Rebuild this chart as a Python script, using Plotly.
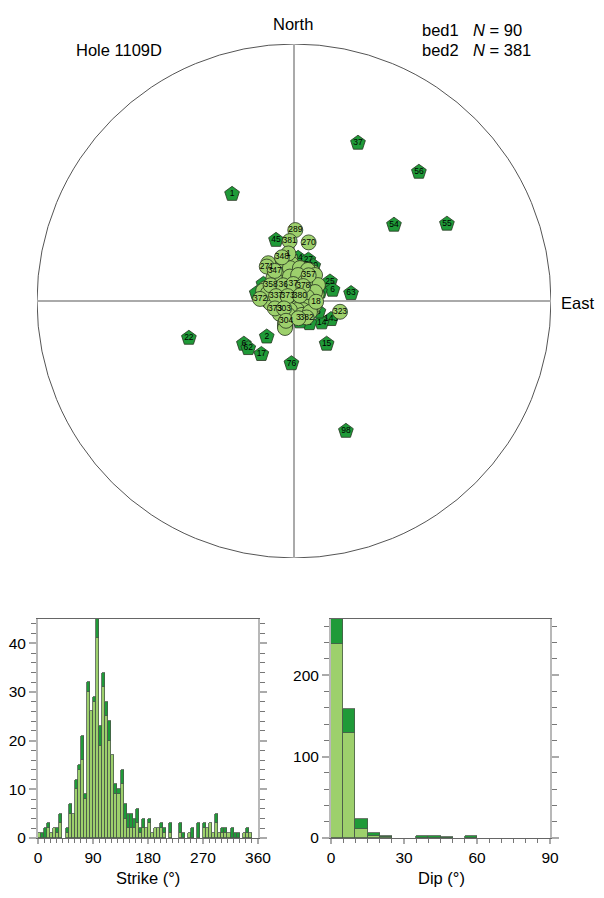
import plotly.graph_objects as go

# Stereonet points: east / north as percent of the net radius
bed1_labels = ["1","37","56","54","55","22","98","45","44","27","20","25","6","63","46","143","14","3","2","","2","6","62","17","15","76","",""]
bed1_east = [-24.1,24.9,48.6,38.9,59.5,-40.9,20.2,-7.0,1.6,5.6,7.5,14.0,15.0,22.2,10.1,14.4,10.8,9.5,6.0,2.3,-10.6,-19.5,-17.8,-12.7,12.7,-1.0,-14.5,-11.9]
bed1_north = [41.6,61.5,50.2,29.6,30.0,-14.4,-50.6,23.7,16.7,16.0,13.6,7.5,4.3,3.0,3.6,-7.1,-8.4,-4.2,-8.7,-8.0,-13.9,-16.7,-18.4,-20.7,-16.7,-24.3,3.0,6.6]

bed2_fill_east = [-3.5,-3.0,-1.0,1.5,3.5,7.0,8.0,8.8,7.5,-11.0,-9.5,-8.0,-12.0,-10.0,-5.5,-3.5,-1.5,0.5,2.5,4.5,6.0,7.5,-6.0,-3.0,0.0,2.0,4.0,6.0,7.5,-9.0,-5.5,-1.5,1.0,3.5,5.5,-6.0,-2.0,0.5,3.0,5.5,-4.0,-1.0,1.5,4.0,7.0,-5.5,-2.0,1.0,-3.8,-1.5,-4.5,-1.0,-5.5,-2.0,0.0,1.5,-10.0,-1.6,2.3,5.4,8.2,9.3,-1.6,1.6,4.3,8.2,7.0,5.1,5.4,3.5,1.2,-1.6,-2.3,3.1,6.2,-5.4,-8.2,-10.1,-3.5,-3.5]
bed2_fill_north = [-9.8,-5.5,-5.0,-4.5,-4.0,-3.5,-1.5,2.5,5.5,5.0,3.5,9.0,4.0,0.0,13.5,14.0,11.5,12.0,12.8,12.2,12.0,11.0,9.5,9.0,9.5,9.0,8.5,8.0,8.0,-1.0,-0.5,-0.5,0.0,0.0,0.5,4.0,4.0,4.5,4.0,3.0,-1.5,-2.0,-2.5,-2.0,-1.5,-5.0,-4.5,-6.0,15.5,16.5,12.5,14.5,7.0,8.0,11.0,10.5,14.7,12.8,12.8,12.1,10.1,6.2,9.5,10.1,7.4,3.5,-0.4,1.6,-2.3,-3.5,-3.5,-3.5,-5.4,-5.4,-4.3,0.4,4.3,3.1,-8.6,-10.5]
bed2_labels = ["289","381","270","1","348","271","347","357","358","36","37","378","372","337","373","380","373","303","304","18","323","382","3"]
bed2_east = [0.5,-1.7,5.7,-2.2,-4.7,-10.6,-7.5,5.7,-9.1,-4.2,-0.3,3.6,-13.2,-7.0,-2.5,2.3,-7.4,-3.9,-3.1,8.6,17.9,4.9,1.7]
bed2_north = [27.6,23.3,22.8,18.5,17.0,13.4,11.7,10.0,6.1,6.1,6.6,5.8,0.8,1.9,1.9,2.1,-2.9,-2.9,-7.7,-0.3,-4.2,-6.4,-6.7]

# Histograms
strike_bins = [2.5 + 5 * i for i in range(72)]
strike_bed2 = [1,0,0,2,1,2,1,3,0,1,5,5,10,14,16,8,30,26,28,41,19,31,25,20,17,9,9,11,4,2,2,2,3,1,2,2,3,1,2,2,2,1,0,1,0,0,1,0,0,1,0,0,0,0,2,2,3,1,3,1,1,1,1,0,0,0,0,1,1,1,0,0]
strike_bed1 = [0,1,2,1,0,0,1,2,0,1,2,0,2,1,5,1,2,0,1,4,4,3,3,4,0,2,1,3,3,3,3,2,3,1,2,0,1,0,0,0,1,1,0,2,0,0,2,1,0,0,2,0,3,0,1,0,0,0,2,0,1,1,0,2,1,1,0,0,1,0,0,0]
dip_bins = [2.5 + 5 * i for i in range(18)]
dip_bed2 = [238,129,11,2,1,0,0,0,0,0,0,0,0,0,0,0,0,0]
dip_bed1 = [32,30,12,4,2,0,0,2,3,1,0,3,0,0,0,0,0,0]

strike_ticks = [0,90,180,270,360]
dip_ticks = [0,30,60,90]

LIGHT = "#9dd06c"
DARK = "#1f9a38"
EDGE = "#26331f"
FONT = "Liberation Sans"
PAGE = 8            # the page's own margin around the figure
W, H = 604 - 2 * PAGE, 898 - 2 * PAGE

def fx(px):
    return (px - PAGE) / W

def fy(py):
    return 1 - (py - PAGE) / H

def nz(values):
    return [v if v else None for v in values]

fig = go.Figure()

# net
fig.add_shape(type="circle", xref="x", yref="y", x0=-100, x1=100, y0=-100, y1=100,
              line=dict(color="#555555", width=1), layer="below")
fig.add_shape(type="line", xref="x", yref="y", x0=-100, x1=100, y0=0, y1=0,
              line=dict(color="#aaaaaa", width=2), layer="below")
fig.add_shape(type="line", xref="x", yref="y", x0=0, x1=0, y0=-100, y1=100,
              line=dict(color="#aaaaaa", width=2), layer="below")

label_font = dict(size=8.5, color="black", family=FONT)
fig.add_trace(go.Scatter(x=bed1_east, y=bed1_north, mode="markers+text", text=bed1_labels,
                         textposition="middle center", textfont=label_font,
                         marker=dict(symbol="pentagon", size=15.5, color=DARK, line=dict(color=EDGE, width=0.8)),
                         xaxis="x", yaxis="y", showlegend=False))
fig.add_trace(go.Scatter(x=bed2_fill_east, y=bed2_fill_north, mode="markers",
                         marker=dict(symbol="circle", size=15, color=LIGHT, line=dict(color=EDGE, width=0.8)),
                         xaxis="x", yaxis="y", showlegend=False))
fig.add_trace(go.Scatter(x=bed2_east, y=bed2_north, mode="markers+text", text=bed2_labels,
                         textposition="middle center", textfont=label_font,
                         marker=dict(symbol="circle", size=15, color=LIGHT, line=dict(color=EDGE, width=0.8)),
                         xaxis="x", yaxis="y", showlegend=False))

bar_line = dict(color="#4a5a4a", width=0.8)
fig.add_trace(go.Bar(x=strike_bins, y=nz(strike_bed2), width=5, marker=dict(color=LIGHT, line=bar_line), xaxis="x2", yaxis="y2", showlegend=False))
fig.add_trace(go.Bar(x=strike_bins, y=nz(strike_bed1), width=5, marker=dict(color=DARK, line=bar_line), xaxis="x2", yaxis="y2", showlegend=False))
fig.add_trace(go.Bar(x=dip_bins, y=nz(dip_bed2), width=5, marker=dict(color=LIGHT, line=bar_line), xaxis="x3", yaxis="y3", showlegend=False))
fig.add_trace(go.Bar(x=dip_bins, y=nz(dip_bed1), width=5, marker=dict(color=DARK, line=bar_line), xaxis="x3", yaxis="y3", showlegend=False))

TICK_FONT = dict(size=15.5, family=FONT, color="black")

def xax(x0, x1, rng, ticks, minor):
    return dict(domain=[fx(x0), fx(x1)], range=rng, tickmode="array", tickvals=ticks, ticks="outside",
                ticklen=5, tickwidth=2, tickcolor="#aaaaaa", linecolor="#666666", showline=True, mirror=True,
                showgrid=False, zeroline=False, automargin=False, tickfont=TICK_FONT,
                minor=dict(dtick=minor, ticks="outside", ticklen=4, tickwidth=1, tickcolor="#777777", showgrid=False))

def yax(rng, dtick, minor, anchor):
    return dict(domain=[fy(838), fy(619)], range=rng, dtick=dtick, ticks="outside", ticklen=7, tickwidth=2,
                tickcolor="#aaaaaa", linecolor="#b8b8b8", linewidth=2, showline=True, mirror="ticks",
                showgrid=False, zeroline=False, automargin=False, tickfont=TICK_FONT, anchor=anchor,
                minor=dict(dtick=minor, ticks="outside", ticklen=5, tickwidth=1, tickcolor="#777777", showgrid=False))

fig.update_layout(
    width=W, height=H, margin=dict(l=0, r=0, t=0, b=0), autosize=False,
    paper_bgcolor="white", plot_bgcolor="rgba(0,0,0,0)", barmode="stack", bargap=0,
    xaxis=dict(domain=[fx(37), fx(551)], range=[-100, 100], visible=False, anchor="y"),
    yaxis=dict(domain=[fy(558), fy(44)], range=[-100, 100], visible=False, anchor="x"),
    xaxis2=xax(38, 258, [0, 360], strike_ticks, 10) | {"anchor": "y2"},
    yaxis2=yax([0, 45], 10, 2, "x2"),
    xaxis3=xax(331, 550, [0, 90], dip_ticks, 5) | {"anchor": "y3"},
    yaxis3=yax([0, 269], 100, 20, "x3"),
)

def label(text, px, py, anchor="center", size=16.5):
    fig.add_annotation(text=text, x=fx(px), y=fy(py), xref="paper", yref="paper", showarrow=False,
                       xanchor=anchor, yanchor="middle", font=dict(size=size, family=FONT, color="black"),
                       borderpad=0, borderwidth=0)

label("North", 293, 24)
label("East", 577, 303)
label("Hole 1109D", 76, 50, "left")
label("bed1", 422, 30, "left")
label("bed2", 422, 50, "left")
label("<i>N</i> = 90", 473, 30, "left")
label("<i>N</i> = 381", 473, 50, "left")
label("Strike (°)", 148, 878)
label("Dip (°)", 441, 878)

fig.write_html("out.html")
